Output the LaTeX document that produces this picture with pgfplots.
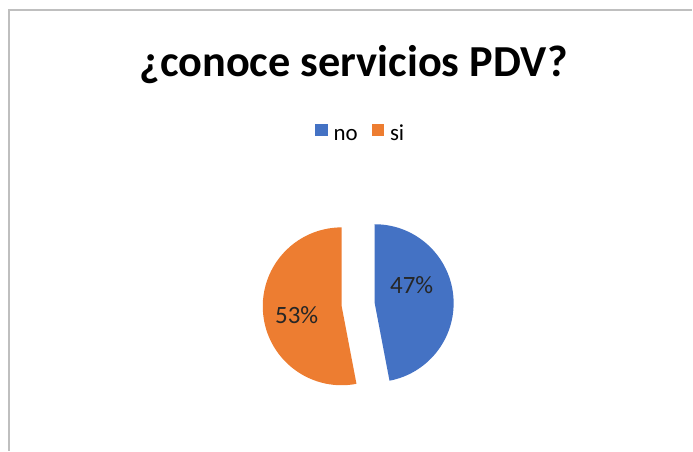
\documentclass[border=0pt]{standalone}
\usepackage{pgfplots}
\pgfplotsset{compat=1.18}
\usepackage{fontspec}
\setmainfont{Carlito}
\definecolor{pieblue}{HTML}{4472C4}
\definecolor{pieorange}{HTML}{ED7D31}
\definecolor{framegray}{HTML}{BFBFBF}

% shares of the pie (percent)
\def\vno{47}
\def\vsi{53}
% pie centre, radius and explosion (axis units = bp)
\def\cx{358.5}
\def\cy{146}
\def\rad{79}
\def\expl{16.6}
\pgfmathsetmacro{\aA}{90}
\pgfmathsetmacro{\aB}{90-3.6*\vno}
\pgfmathsetmacro{\aC}{\aB-3.6*\vsi}
\pgfmathsetmacro{\midno}{(\aA+\aB)/2}
\pgfmathsetmacro{\midsi}{(\aB+\aC)/2}
\pgfmathsetmacro{\nox}{\cx+\expl*cos(\midno)}
\pgfmathsetmacro{\noy}{\cy+\expl*sin(\midno)}
\pgfmathsetmacro{\six}{\cx+\expl*cos(\midsi)}
\pgfmathsetmacro{\siy}{\cy+\expl*sin(\midsi)}

\begin{document}
\begin{tikzpicture}
\begin{axis}[
  width=693bp, height=451bp, scale only axis,
  xmin=0, xmax=693, ymin=0, ymax=451,
  hide axis, clip=false,
  legend columns=2,
  legend style={draw=none, fill=none, at={(axis cs:361,318)}, anchor=center,
    font=\fontsize{23}{25}\selectfont, column sep=4pt,
    /tikz/every even column/.append style={column sep=12pt}},
  legend image code/.code={\fill[#1] (0cm,-0.12cm) rectangle (0.44cm,0.32cm);},
]
% keep the page exactly the axis rectangle
\path (rel axis cs:0,0) rectangle (rel axis cs:1,1);
% frame (top and left edges visible)
\draw[framegray, line width=1.2pt] (axis cs:9,0) -- (axis cs:9,441) -- (axis cs:693,441);

% slices
\fill[pieblue] (axis cs:\nox,\noy) -- ++(\aA:\rad bp)
  arc[start angle=\aA, end angle=\aB, radius=\rad bp] -- cycle;
\fill[pieorange] (axis cs:\six,\siy) -- ++(\aB:\rad bp)
  arc[start angle=\aB, end angle=\aC, radius=\rad bp] -- cycle;

\addlegendimage{pieblue, fill=pieblue, draw=none}
\addlegendentry{\strut no}
\addlegendimage{pieorange, fill=pieorange, draw=none}
\addlegendentry{\strut si}

% data labels
\node[font=\fontsize{25}{27}\selectfont, text=black!85] at (axis cs:412,166) {\vno\%};
\node[font=\fontsize{25}{27}\selectfont, text=black!85] at (axis cs:297,136) {\vsi\%};

% title
\node[anchor=base, font=\fontsize{44.5}{46}\selectfont\bfseries] at (axis cs:354,374) {¿conoce servicios PDV?};
\end{axis}
\end{tikzpicture}
\end{document}
